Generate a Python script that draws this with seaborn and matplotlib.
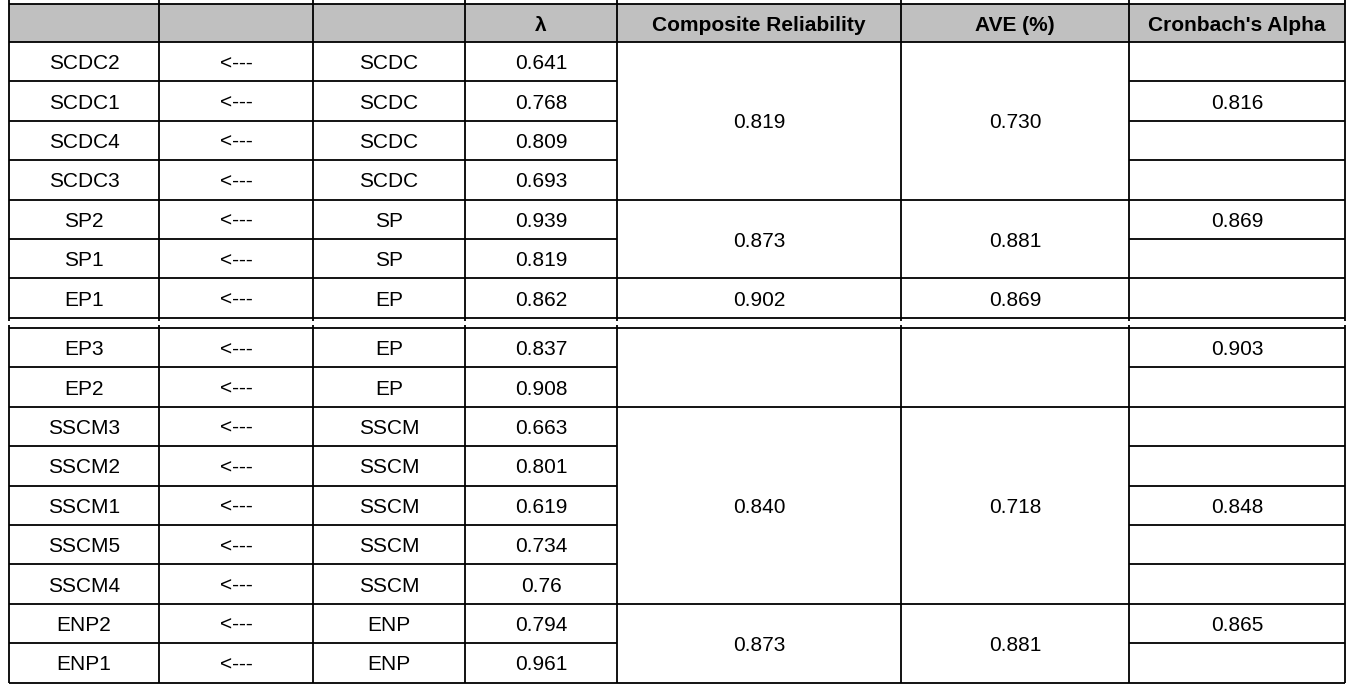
import matplotlib
matplotlib.use("Agg")
import matplotlib.pyplot as plt
import matplotlib.patches as mpatches
import seaborn as sns

# ---------------- data ----------------
headers = ["", "", "", "λ", "Composite Reliability", "AVE (%)", "Cronbach's Alpha"]
indicators = ["SCDC2", "SCDC1", "SCDC4", "SCDC3", "SP2", "SP1", "EP1",
              "EP3", "EP2", "SSCM3", "SSCM2", "SSCM1", "SSCM5", "SSCM4",
              "ENP2", "ENP1"]
arrows = ["<---"] * len(indicators)
constructs = ["SCDC", "SCDC", "SCDC", "SCDC", "SP", "SP", "EP",
              "EP", "EP", "SSCM", "SSCM", "SSCM", "SSCM", "SSCM",
              "ENP", "ENP"]
loadings = ["0.641", "0.768", "0.809", "0.693", "0.939", "0.819", "0.862",
            "0.837", "0.908", "0.663", "0.801", "0.619", "0.734", "0.76",
            "0.794", "0.961"]
# merged groups for Composite Reliability / AVE (row start, row end exclusive)
group_starts = [0, 4, 6, 7, 9, 14]
group_ends = [4, 6, 7, 9, 14, 16]
cr_values = ["0.819", "0.873", "0.902", "", "0.840", "0.873"]
ave_values = ["0.730", "0.881", "0.869", "", "0.718", "0.881"]
cronbach = ["", "0.816", "", "", "0.869", "", "", "0.903", "", "",
            "", "0.848", "", "", "0.865", ""]

# ---------------- layout (pixels) ----------------
W, H = 1355, 691
col_edges = [9, 159, 313, 465, 617, 901, 1129, 1345]
header_top, header_bot = 4, 42
block_tops = [42, 328]
block_rows = [7, 9]
row_h = 39.4
LW = 1.3
FS = 15

sns.set_theme(style="white")
plt.rcParams["font.family"] = ["Liberation Sans", "DejaVu Sans"]

fig = plt.figure(figsize=(W / 100, H / 100), dpi=100)
ax = fig.add_axes([0, 0, 1, 1])
ax.set_xlim(0, W)
ax.set_ylim(H, 0)
ax.axis("off")


def row_top(i):
    if i < block_rows[0]:
        return block_tops[0] + row_h * i
    return block_tops[1] + row_h * (i - block_rows[0])


def row_bot(i):
    return row_top(i) + row_h


def cx(c):
    return (col_edges[c] + col_edges[c + 1]) / 2


# header
ax.add_patch(mpatches.Rectangle((col_edges[0], header_top),
                                col_edges[-1] - col_edges[0],
                                header_bot - header_top,
                                facecolor="#C0C0C0", edgecolor="none", zorder=0))
for c, h in enumerate(headers):
    if h:
        ax.text(cx(c), (header_top + header_bot) / 2, h, ha="center",
                va="center_baseline", fontsize=FS, fontweight="bold", color="black")

kw = dict(color="black", lw=LW, solid_capstyle="butt", zorder=3)

# block frames
n_total = len(indicators)
block_ranges = [(0, block_rows[0]), (block_rows[0], n_total)]
for b, (r0, r1) in enumerate(block_ranges):
    top = header_top if b == 0 else row_top(r0)
    bot = row_bot(r1 - 1)
    vtop = 0 if b == 0 else top - 3
    vbot = bot + 3 if b == 0 else bot
    ax.plot([col_edges[0], col_edges[-1]], [top, top], **kw)
    ax.plot([col_edges[0], col_edges[-1]], [bot, bot], **kw)
    for x in col_edges:
        ax.plot([x, x], [vtop, vbot], **kw)
ax.plot([col_edges[0], col_edges[-1]], [header_bot, header_bot], **kw)

# inner row lines
ends_set = set(group_ends)
for i in range(n_total - 1):
    if i == block_rows[0] - 1:
        continue
    y = row_bot(i)
    ax.plot([col_edges[0], col_edges[4]], [y, y], **kw)
    ax.plot([col_edges[6], col_edges[7]], [y, y], **kw)
    if (i + 1) in ends_set:
        ax.plot([col_edges[4], col_edges[6]], [y, y], **kw)

# body text
for i in range(n_total):
    yc = (row_top(i) + row_bot(i)) / 2
    for c, vals in enumerate([indicators, arrows, constructs, loadings]):
        ax.text(cx(c), yc, vals[i], ha="center", va="center_baseline",
                fontsize=FS, color="black")
    if cronbach[i]:
        ax.text(cx(6), yc, cronbach[i], ha="center", va="center_baseline",
                fontsize=FS, color="black")

for s, e, crv, avv in zip(group_starts, group_ends, cr_values, ave_values):
    yc = (row_top(s) + row_bot(e - 1)) / 2
    if crv:
        ax.text(cx(4), yc, crv, ha="center", va="center_baseline",
                fontsize=FS, color="black")
    if avv:
        ax.text(cx(5), yc, avv, ha="center", va="center_baseline",
                fontsize=FS, color="black")

fig.savefig("out.png", dpi=100, facecolor="white")
